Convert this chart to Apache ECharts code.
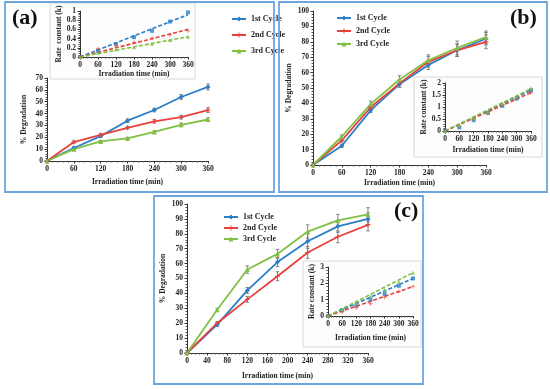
<!DOCTYPE html>
<html><head><meta charset="utf-8">
<script src="https://cdn.jsdelivr.net/npm/echarts@6/dist/echarts.min.js"></script>
<style>html,body{margin:0;padding:0;background:#fff}#c{width:550px;height:389px}</style>
</head><body><div id="c"></div>
<script>
// ---------- data ----------
const times = [0, 60, 120, 180, 240, 300, 360];
const cycleNames = ['1st Cycle', '2nd Cycle', '3rd Cycle'];

// Panel (a) % degradation
const aDeg1 = [0, 11, 21, 34, 43, 54, 62.5];
const aDeg2 = [0, 16, 22, 28, 33.5, 37, 43];
const aDeg3 = [0, 10, 16.5, 19, 24.5, 30.5, 35];
const aErr1 = [0, 1, 1, 1.5, 1.5, 2, 2.5];
const aErr2 = [0, 1, 1, 1, 1.5, 1.5, 2];
const aErr3 = [0, 0.8, 0.8, 1, 1, 1.5, 1.5];
// Panel (a) rate constants
const aK1 = [0, 0.13, 0.28, 0.43, 0.57, 0.77, 0.97];
const aK2 = [0, 0.18, 0.24, 0.32, 0.41, 0.48, 0.57];
const aK3 = [0, 0.1, 0.17, 0.21, 0.29, 0.37, 0.44];
const aFitEnd = [0.92, 0.6, 0.44];

// Panel (b)
const bDeg1 = [0, 12.5, 35.5, 52.5, 65, 74.5, 82];
const bDeg2 = [0, 16, 37.5, 53, 67, 74.5, 80];
const bDeg3 = [0, 18.5, 39.5, 55.5, 68, 76, 83];
const bErr1 = [0, 1, 1.5, 2, 3, 4, 4];
const bErr2 = [0, 1, 2, 2.5, 3.5, 4, 4.5];
const bErr3 = [0, 1, 2, 2.5, 3.5, 4.5, 4];
const bK1 = [0, 0.15, 0.45, 0.75, 1.05, 1.35, 1.7];
const bK2 = [0, 0.2, 0.5, 0.75, 1.1, 1.4, 1.6];
const bK3 = [0, 0.25, 0.55, 0.8, 1.15, 1.45, 1.78];
const bFitEnd = [1.7, 1.6, 1.76];

// Panel (c)
const cDeg1 = [0, 19, 42, 61, 75, 85, 90];
const cDeg2 = [0, 20, 36, 51.5, 67.5, 78, 86];
const cDeg3 = [0, 29, 56, 66.5, 81.5, 89, 93];
const cErr1 = [0, 1, 2, 3, 5, 4, 4];
const cErr2 = [0, 1, 2, 3, 4, 4, 4];
const cErr3 = [0, 1, 2.5, 3, 4.5, 4, 4.5];
const cK1 = [0, 0.35, 0.65, 1.0, 1.35, 1.85, 2.3];
const cK2 = [0, 0.25, 0.5, 0.75, 1.15, 1.5, 1.8];
const cK3 = [0, 0.4, 0.8, 1.2, 1.6, 2.1, 2.65];
const cFitEnd = [2.3, 1.8, 2.65];

// ---------- styles ----------
const FONT = 'Liberation Serif';
const COLORS = ['#2a7fc8', '#e8413c', '#80c043'];
const SYMS = ['diamond', 'path://M4,0h2v4h4v2h-4v4h-2v-4h-4v-2h4z', 'triangle'];
const BORDER = '#6ea6dc';

const grids = [
  {left: 47, top: 78, width: 161, height: 83},    // 0 a main
  {left: 80, top: 11, width: 108, height: 46},    // 1 a inset
  {left: 313, top: 11, width: 173, height: 154},  // 2 b main
  {left: 445, top: 83, width: 86, height: 48},    // 3 b inset
  {left: 187, top: 204, width: 181, height: 149}, // 4 c main
  {left: 328, top: 267, width: 85, height: 49}    // 5 c inset
];

function txt(size) { return {fontFamily: FONT, fontWeight: 'bold', fontSize: size, color: '#222'}; }

function xAx(g, interval, nameGap) {
  return {
    type: 'value', gridIndex: g, min: 0, max: 360, interval: interval,
    name: 'Irradiation time (min)', nameLocation: 'middle', nameGap: nameGap,
    nameTextStyle: txt(7.5),
    axisLine: {onZero: false, lineStyle: {color: '#333', width: 1}},
    axisTick: {show: true, length: 2.5, lineStyle: {color: '#333'}},
    minorTick: {show: true, splitNumber: 5, length: 1.5, lineStyle: {color: '#555'}},
    axisLabel: Object.assign({margin: 4}, txt(7.5)),
    splitLine: {show: false}
  };
}
function yAx(g, max, interval, name, nameGap) {
  return {
    type: 'value', gridIndex: g, min: 0, max: max, interval: interval,
    name: name, nameLocation: 'middle', nameGap: nameGap, nameRotate: 90,
    nameTextStyle: txt(7.5),
    axisLine: {show: true, onZero: false, lineStyle: {color: '#333', width: 1}},
    axisTick: {show: true, length: 2.5, lineStyle: {color: '#333'}},
    minorTick: {show: true, splitNumber: 5, length: 1.5, lineStyle: {color: '#555'}},
    axisLabel: Object.assign({margin: 4}, txt(7.5)),
    splitLine: {show: false}
  };
}

const xAxes = [
  xAx(0, 60, 17), xAx(1, 60, 13), xAx(2, 60, 14), xAx(3, 60, 15), xAx(4, 40, 19), xAx(5, 60, 18)
];
const yAxes = [
  yAx(0, 70, 10, '% Degradation', 19),
  yAx(1, 1, 0.2, 'Rate  constant (k)', 16),
  yAx(2, 100, 10, '% Degradation', 20),
  yAx(3, 2, 0.5, 'Rate constant (k)', 16),
  yAx(4, 100, 10, '% Degradation', 20),
  yAx(5, 3, 1, 'Rate constant (k)', 12)
];

const series = [];
function mainLines(axIdx, degs) {
  degs.forEach(function (vals, i) {
    series.push({
      type: 'line', name: cycleNames[i], xAxisIndex: axIdx, yAxisIndex: axIdx,
      data: times.map(function (t, j) { return [t, vals[j]]; }),
      symbol: SYMS[i], symbolSize: 5, showAllSymbol: true,
      lineStyle: {color: COLORS[i], width: 1.8}, itemStyle: {color: COLORS[i]},
      z: 3, animation: false
    });
  });
}
function errBars(axIdx, degs, errs) {
  degs.forEach(function (vals, i) {
    series.push({
      type: 'custom', name: 'err' + axIdx + '_' + i, xAxisIndex: axIdx, yAxisIndex: axIdx,
      data: times.map(function (t, j) { return [t, vals[j], errs[i][j]]; }),
      renderItem: function (params, api) {
        const x = api.value(0), y = api.value(1), e = api.value(2);
        if (!e) return null;
        const hi = api.coord([x, y + e]), lo = api.coord([x, y - e]);
        const w = 1.8, st = {stroke: '#7a7a7a', lineWidth: 0.9};
        return {type: 'group', children: [
          {type: 'line', shape: {x1: hi[0], y1: hi[1], x2: lo[0], y2: lo[1]}, style: st},
          {type: 'line', shape: {x1: hi[0] - w, y1: hi[1], x2: hi[0] + w, y2: hi[1]}, style: st},
          {type: 'line', shape: {x1: lo[0] - w, y1: lo[1], x2: lo[0] + w, y2: lo[1]}, style: st}
        ]};
      },
      silent: true, z: 2, animation: false
    });
  });
}
function inset(axIdx, ks, fitEnd) {
  ks.forEach(function (vals, i) {
    series.push({
      type: 'line', name: 'fit' + axIdx + '_' + i, xAxisIndex: axIdx, yAxisIndex: axIdx,
      data: [[0, 0], [360, fitEnd[i]]], showSymbol: false, symbol: 'none',
      lineStyle: {color: COLORS[i], width: 1.6, type: [4, 2]}, z: 2, animation: false, silent: true
    });
    series.push({
      type: 'scatter', name: 'k' + axIdx + '_' + i, xAxisIndex: axIdx, yAxisIndex: axIdx,
      data: times.map(function (t, j) { return [t, vals[j]]; }),
      symbol: i === 0 ? 'rect' : SYMS[i], symbolSize: 4,
      itemStyle: {color: COLORS[i]}, z: 3, animation: false, silent: true
    });
  });
}

mainLines(0, [aDeg1, aDeg2, aDeg3]);
mainLines(2, [bDeg1, bDeg2, bDeg3]);
mainLines(4, [cDeg1, cDeg2, cDeg3]);
errBars(0, [aDeg1, aDeg2, aDeg3], [aErr1, aErr2, aErr3]);
errBars(2, [bDeg1, bDeg2, bDeg3], [bErr1, bErr2, bErr3]);
errBars(4, [cDeg1, cDeg2, cDeg3], [cErr1, cErr2, cErr3]);
inset(1, [aK1, aK2, aK3], aFitEnd);
inset(3, [bK1, bK2, bK3], bFitEnd);
inset(5, [cK1, cK2, cK3], cFitEnd);

function legend(left, top, gap) {
  return {
    data: cycleNames, orient: 'vertical', left: left, top: top, itemGap: gap,
    itemWidth: 14, itemHeight: 6, textStyle: txt(8), selectedMode: false
  };
}

const option = {
  animation: false,
  backgroundColor: '#fff',
  grid: grids,
  xAxis: xAxes,
  yAxis: yAxes,
  legend: [legend(226, 10, 8), legend(331, 9, 5), legend(218, 208, 3)],
  series: series,
  graphic: [
    {type: 'rect', shape: {x: 5, y: 2, width: 269, height: 190}, style: {fill: 'none', stroke: BORDER, lineWidth: 1.8}, z: 10, silent: true},
    {type: 'rect', shape: {x: 279, y: 2, width: 268, height: 190}, style: {fill: 'none', stroke: BORDER, lineWidth: 1.8}, z: 10, silent: true},
    {type: 'rect', shape: {x: 154, y: 196, width: 269, height: 188}, style: {fill: 'none', stroke: BORDER, lineWidth: 1.8}, z: 10, silent: true},
    {type: 'rect', shape: {x: 50, y: 3, width: 145, height: 76}, style: {fill: '#fdfdfd', stroke: '#d8d8d8', lineWidth: 1}, z: -1, silent: true},
    {type: 'rect', shape: {x: 414, y: 77, width: 128, height: 80}, style: {fill: '#fdfdfd', stroke: '#d8d8d8', lineWidth: 1}, z: -1, silent: true},
    {type: 'rect', shape: {x: 303, y: 261, width: 118, height: 86}, style: {fill: '#fdfdfd', stroke: '#d8d8d8', lineWidth: 1}, z: -1, silent: true},
    {type: 'text', left: 12, top: 7, style: {text: '(a)', font: 'bold 22px "Liberation Serif"', fill: '#111'}, z: 10},
    {type: 'text', left: 510, top: 7, style: {text: '(b)', font: 'bold 22px "Liberation Serif"', fill: '#111'}, z: 10},
    {type: 'text', left: 394, top: 200, style: {text: '(c)', font: 'bold 22px "Liberation Serif"', fill: '#111'}, z: 10}
  ]
};

const chart = echarts.init(document.getElementById('c'), null, {renderer: 'canvas'});
chart.setOption(option);
</script>
</body></html>
